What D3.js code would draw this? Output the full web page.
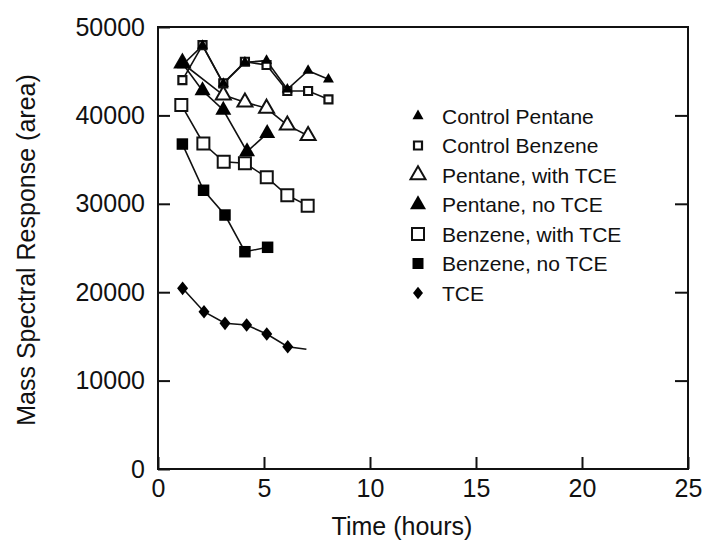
<!DOCTYPE html>
<html>
<head>
<meta charset="utf-8">
<script src="https://cdn.jsdelivr.net/npm/d3@7"></script>
<style>
  body { margin: 0; background: #fff; }
  text { font-family: "Liberation Sans", Arial, Helvetica, sans-serif; fill: #111; }
</style>
</head>
<body>
<div id="chart"></div>
<script>
var width = 705, height = 544;
var margin = {top: 27, right: 17, bottom: 75, left: 158};

// values
var controlHours = [1.15, 2.1, 3.08, 4.1, 5.12, 6.1, 7.08, 8.04];
var controlPentane = [45700, 47900, 43600, 46000, 46200, 42950, 45060, 44080];
var controlBenzene = [44000, 47960, 43630, 46070, 45700, 42760, 42760, 41820];

var pentaneTceHours = [1.15, 3.08, 4.1, 5.12, 6.1, 7.08];
var pentaneTce = [45900, 42300, 41500, 40800, 38900, 37700];

var pentaneNoTceHours = [1.15, 2.1, 3.08, 4.2, 5.15];
var pentaneNoTce = [45890, 42800, 40610, 35900, 37970];

var benzeneTceHours = [1.1, 2.14, 3.1, 4.1, 5.13, 6.1, 7.06];
var benzeneTce = [41180, 36820, 34760, 34580, 33000, 30960, 29790];

var benzeneNoTceHours = [1.15, 2.15, 3.16, 4.1, 5.17];
var benzeneNoTce = [36760, 31530, 28730, 24580, 25080];

var tceHours = [1.16, 2.17, 3.16, 4.18, 5.13, 6.12, 7.0];
var tce = [20440, 17790, 16480, 16290, 15270, 13830, 13540];
var tceMarked = 6; // last point of the TCE curve has no marker

var xTicks = [0, 5, 10, 15, 20, 25];
var yTicks = [0, 10000, 20000, 30000, 40000, 50000];

var legendLabels = ["Control Pentane", "Control Benzene", "Pentane, with TCE",
  "Pentane, no TCE", "Benzene, with TCE", "Benzene, no TCE", "TCE"];

// marker shapes (size = nominal width in px)
function triPath(s) {
  var h = s * 0.87;
  return "M0," + (-2 * h / 3) + "L" + (s / 2) + "," + (h / 3) + "L" + (-s / 2) + "," + (h / 3) + "Z";
}
function sqPath(s) {
  var r = s / 2;
  return "M" + (-r) + "," + (-r) + "H" + r + "V" + r + "H" + (-r) + "Z";
}
function diaPath(s) {
  var w = s / 2, h = s * 0.62;
  return "M0," + (-h) + "L" + w + ",0L0," + h + "L" + (-w) + ",0Z";
}

var series = [
  {name: legendLabels[1], hours: controlHours, values: controlBenzene, path: sqPath(8), fill: "#fff", stroke: 2.2},
  {name: legendLabels[0], hours: controlHours, values: controlPentane, path: triPath(11), fill: "#000", stroke: 0},
  {name: legendLabels[2], hours: pentaneTceHours, values: pentaneTce, path: triPath(15), fill: "#fff", stroke: 2},
  {name: legendLabels[4], hours: benzeneTceHours, values: benzeneTce, path: sqPath(12), fill: "#fff", stroke: 2},
  {name: legendLabels[5], hours: benzeneNoTceHours, values: benzeneNoTce, path: sqPath(11.5), fill: "#000", stroke: 0},
  {name: legendLabels[6], hours: tceHours, values: tce, path: diaPath(11), fill: "#000", stroke: 0, marked: tceMarked},
  {name: legendLabels[3], hours: pentaneNoTceHours, values: pentaneNoTce, path: triPath(16), fill: "#000", stroke: 0}
];

var x = d3.scaleLinear().domain([0, 25]).range([margin.left, width - margin.right]);
var y = d3.scaleLinear().domain([0, 50000]).range([height - margin.bottom, margin.top]);

var svg = d3.select("#chart").append("svg")
    .attr("width", width)
    .attr("height", height);

// frame
svg.append("rect")
    .attr("x", x(0)).attr("y", y(50000))
    .attr("width", x(25) - x(0)).attr("height", y(0) - y(50000))
    .attr("fill", "none").attr("stroke", "#111").attr("stroke-width", 2);

// inward ticks
svg.append("g")
    .attr("transform", "translate(0," + y(0) + ")")
    .call(d3.axisBottom(x).tickValues(xTicks).tickSizeInner(-12).tickSizeOuter(0).tickPadding(10))
    .call(g => g.select(".domain").remove())
    .call(g => g.selectAll("line").attr("stroke", "#111").attr("stroke-width", 2))
    .call(g => g.selectAll("text").attr("font-size", 25).attr("fill", "#111").attr("font-family", null));

svg.append("g")
    .attr("transform", "translate(" + x(0) + ",0)")
    .call(d3.axisLeft(y).tickValues(yTicks).tickFormat(d3.format("d")).tickSizeInner(-12).tickSizeOuter(0).tickPadding(13))
    .call(g => g.select(".domain").remove())
    .call(g => g.selectAll("line").attr("stroke", "#111").attr("stroke-width", 2))
    .call(g => g.selectAll("text").attr("font-size", 25).attr("fill", "#111").attr("font-family", null));

svg.append("g")
    .attr("transform", "translate(" + x(25) + ",0)")
    .call(d3.axisRight(y).tickValues(yTicks.slice(1, -1)).tickSizeInner(-13).tickSizeOuter(0).tickFormat(""))
    .call(g => g.select(".domain").remove())
    .call(g => g.selectAll("line").attr("stroke", "#111").attr("stroke-width", 2));

// axis titles
svg.append("text")
    .attr("x", 402).attr("y", 535)
    .attr("text-anchor", "middle")
    .attr("font-size", 25)
    .text("Time (hours)");

svg.append("text")
    .attr("transform", "translate(35," + ((y(0) + y(50000)) / 2 + 2) + ") rotate(-90)")
    .attr("text-anchor", "middle")
    .attr("font-size", 25)
    .text("Mass Spectral Response (area)");

// lines
var line = d3.line().x(d => x(d[0])).y(d => y(d[1]));
series.forEach(function (s) {
  var pts = s.hours.map((h, i) => [h, s.values[i]]);
  svg.append("path")
      .attr("d", line(pts))
      .attr("fill", "none")
      .attr("stroke", "#111")
      .attr("stroke-width", 1.6);
});

// markers
series.forEach(function (s) {
  var pts = s.hours.map((h, i) => [h, s.values[i]]);
  if (s.marked) pts = pts.slice(0, s.marked);
  svg.append("g").selectAll("path")
      .data(pts)
      .enter().append("path")
      .attr("transform", d => "translate(" + x(d[0]) + "," + y(d[1]) + ")")
      .attr("d", s.path)
      .attr("fill", s.fill)
      .attr("stroke", s.stroke ? "#111" : "none")
      .attr("stroke-width", s.stroke);
});

// legend
var legendShapes = [triPath(11), sqPath(8), triPath(15), triPath(16), sqPath(12), sqPath(11), diaPath(10)];
var legendFill = ["#000", "#fff", "#fff", "#000", "#fff", "#000", "#000"];
var legendStroke = [0, 2.2, 2, 0, 2, 0, 0];

var legend = svg.append("g").selectAll("g")
    .data(legendLabels)
    .enter().append("g")
    .attr("transform", (d, i) => "translate(418," + (116 + i * 29.5) + ")");

legend.append("path")
    .attr("d", (d, i) => legendShapes[i])
    .attr("fill", (d, i) => legendFill[i])
    .attr("stroke", (d, i) => legendStroke[i] ? "#111" : "none")
    .attr("stroke-width", (d, i) => legendStroke[i]);

legend.append("text")
    .attr("x", 24)
    .attr("dy", "0.36em")
    .attr("font-size", 21)
    .text(d => d);
</script>
</body>
</html>
